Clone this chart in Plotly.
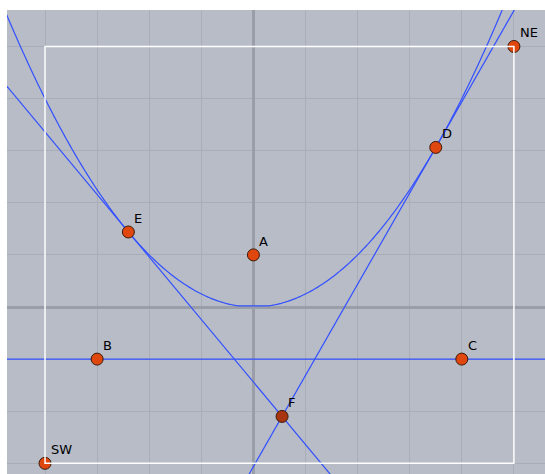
import numpy as np
import plotly.graph_objects as go

# ---- data ----
point_names = ["A", "B", "C", "D", "E", "F", "SW", "NE"]
point_x = [0.0, -3.0, 4.0, 3.5, -2.4, 0.55, -4.0, 5.0]
point_y = [1.0, -1.0, -1.0, 3.0625, 1.44, -2.1, -3.0, 5.0]

x_range = [-4.73, 5.597]
y_range = [-3.205, 5.70]

P = dict(zip(point_names, zip(point_x, point_y)))
fx, fy = P["A"]          # focus
dy = P["B"][1]           # directrix y = B.y = C.y
p2 = fy - dy


def parab(x):
    return (x - fx) ** 2 / (2 * p2) + (fy + dy) / 2


def tangent(x0):
    m = (x0 - fx) / p2
    y0 = parab(x0)
    xs = np.array(x_range)
    return xs, y0 + m * (xs - x0)


line_col = "#3350ff"
lw = 1.2
fig = go.Figure()

# parabola (sampled, flat at the vertex like the original renderer)
xl = np.linspace(-4.9, fx - 0.3, 120)
xr = np.linspace(fx + 0.3, 4.9, 120)
xp = np.concatenate([xl, xr])
fig.add_trace(go.Scatter(x=xp, y=parab(xp), mode="lines",
                         line=dict(color=line_col, width=lw, simplify=False),
                         hoverinfo="skip"))

# directrix through B and C
fig.add_trace(go.Scatter(x=x_range, y=[dy, dy], mode="lines",
                         line=dict(color=line_col, width=lw), hoverinfo="skip"))

# tangents at E and D
for nm in ["E", "D"]:
    tx, ty = tangent(P[nm][0])
    fig.add_trace(go.Scatter(x=tx, y=ty, mode="lines",
                             line=dict(color=line_col, width=lw), hoverinfo="skip"))

# points
colors = ["#a93510" if n == "F" else "#e0470f" for n in point_names]
fig.add_trace(go.Scatter(x=point_x, y=point_y, mode="markers",
                         marker=dict(size=12, color=colors,
                                     line=dict(color="#3a1a0a", width=1)),
                         hoverinfo="skip"))

for n, x, y in zip(point_names, point_x, point_y):
    fig.add_annotation(x=x, y=y, text=n, showarrow=False,
                       xanchor="left", yanchor="bottom", xshift=4, yshift=4,
                       font=dict(family="DejaVu Sans", size=13, color="black"))

# white rectangle SW -> NE (drawn above the points)
fig.add_shape(type="rect", x0=P["SW"][0], y0=P["SW"][1], x1=P["NE"][0], y1=P["NE"][1],
              line=dict(color="white", width=1.5), layer="above")

axis_common = dict(showticklabels=False, ticks="", dtick=1, tick0=0,
                   showgrid=True, gridcolor="#a8adb8", gridwidth=1,
                   zeroline=True, zerolinecolor="#9a9ea8", zerolinewidth=3,
                   showline=False, fixedrange=True)

fig.update_layout(
    width=545, height=474,
    margin=dict(l=7, r=0, t=10, b=0),
    paper_bgcolor="white", plot_bgcolor="#b7bcc7",
    showlegend=False,
    xaxis=dict(range=x_range, **axis_common),
    yaxis=dict(range=y_range, **axis_common),
)

fig.write_html(
    "out.html",
    config={"displayModeBar": False},
    post_script="document.body.style.margin='0';document.body.style.overflow='hidden';",
)
